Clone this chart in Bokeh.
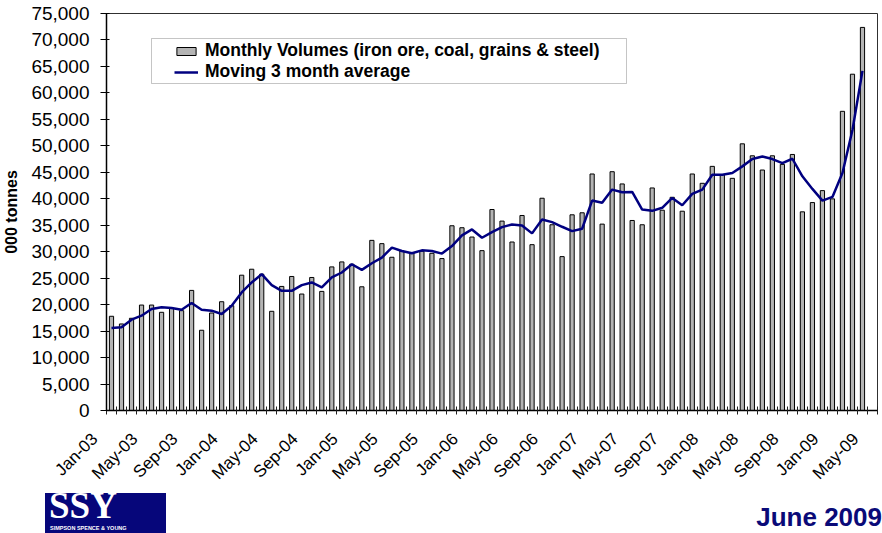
from math import pi
from bokeh.plotting import figure
from bokeh.layouts import column
from bokeh.models import (Range1d, FixedTicker, Legend, LegendItem, BoxAnnotation,
                          NumeralTickFormatter, Div)
from bokeh.embed import file_html
from bokeh.resources import INLINE

# Monthly volumes ('000 tonnes), Jan-03 .. Apr-09
volumes = [17800, 16350, 17420, 19920, 19920, 18550, 19300, 18860, 22690, 15160,
           18420, 20550, 19800, 25560, 26690, 25750, 18740, 23440, 25320, 22000,
           25130, 22500, 27130, 28070, 27630, 23370, 32140, 31520, 28950, 30130,
           29820, 30080, 29700, 28700, 34900, 34530, 32770, 30200, 37970, 35780,
           31830, 36840, 31330, 40100, 35090, 29070, 36970, 37350, 44680, 35210,
           45110, 42800, 35900, 35090, 42040, 37840, 40280, 37650, 44680, 42920,
           46120, 44550, 43860, 50380, 48120, 45430, 48120, 46500, 48370, 37530,
           39280, 41540, 39980, 56520, 63530, 72370]

# Moving 3 month average
moving_avg = [15600, 15730, 17160, 17910, 19170, 19490, 19360, 19040, 20300, 19040,
              18860, 18230, 19800, 22310, 24190, 25750, 23680, 22610, 22610, 23680,
              24190, 23250, 25130, 26070, 27630, 26560, 27820, 28890, 30770, 30130,
              29700, 30260, 30130, 29640, 31070, 33080, 34210, 32640, 33700, 34640,
              35150, 34960, 33460, 36090, 35590, 34710, 33890, 34340, 39660, 39230,
              41730, 41230, 41290, 37970, 37720, 38290, 40160, 38780, 40910, 41730,
              44550, 44550, 44860, 46120, 47500, 48000, 47500, 46740, 47560, 44240,
              41860, 39660, 40350, 44860, 53000, 64160]

tick_labels = ["Jan-03", "May-03", "Sep-03", "Jan-04", "May-04", "Sep-04", "Jan-05",
               "May-05", "Sep-05", "Jan-06", "May-06", "Sep-06", "Jan-07", "May-07",
               "Sep-07", "Jan-08", "May-08", "Sep-08", "Jan-09", "May-09"]
label_step = 4
n_cat = (len(tick_labels) - 1) * label_step + 1
xs = list(range(len(volumes)))

FONT = "Liberation Sans"
W = 882
MAIN_H = 492
FOOT_H = 41

p = figure(width=W, height=MAIN_H, output_backend="svg", toolbar_location=None,
           x_range=Range1d(-0.5, n_cat - 0.5), y_range=Range1d(0, 75000),
           min_border_left=106, min_border_right=5, min_border_top=13,
           min_border_bottom=MAIN_H - 412)
p.xgrid.visible = False
p.ygrid.visible = False
p.outline_line_color = "#303030"
p.outline_line_width = 1
p.background_fill_color = "white"
p.border_fill_color = "white"

bars = p.vbar(x=xs, top=volumes, width=0.42, fill_color="#b4b4b4",
              line_color="black", line_width=1)
avg = p.line(xs, moving_avg, line_color="#000080", line_width=2.5)

# y axis
ya = p.yaxis[0]
ya.ticker = FixedTicker(ticks=list(range(0, 75001, 5000)), minor_ticks=[])
ya.formatter = NumeralTickFormatter(format="0,0")
ya.major_label_text_font = FONT
ya.major_label_text_font_size = "19px"
ya.major_label_text_color = "black"
ya.major_tick_in = 3
ya.major_tick_out = 6
ya.major_tick_line_color = "black"
ya.major_label_standoff = 11
ya.axis_line_color = "black"
ya.axis_line_width = 1.5
ya.axis_label = "000 tonnes"
ya.axis_label_text_font = FONT
ya.axis_label_text_font_style = "bold"
ya.axis_label_text_font_size = "16px"
ya.axis_label_text_color = "black"
ya.axis_label_standoff = 8

# x axis: labels every 4 months, tick marks between categories
PAD = "\u00a0" * 5   # nudges the slanted labels like the original's placement
major = [i * label_step for i in range(len(tick_labels))]
xa = p.xaxis[0]
xa.ticker = FixedTicker(ticks=major,
                        minor_ticks=[i - 0.5 for i in range(n_cat + 1)])
xa.major_label_overrides = {m: lab + PAD for m, lab in zip(major, tick_labels)}
xa.major_label_orientation = pi / 4
xa.major_label_text_font = FONT
xa.major_label_text_font_size = "17px"
xa.major_label_text_color = "black"
xa.major_tick_line_color = None
xa.major_tick_in = 0
xa.major_tick_out = 0
xa.major_label_standoff = 5
xa.minor_tick_in = 4
xa.minor_tick_out = 4
xa.minor_tick_line_color = "#202020"
xa.axis_line_color = "black"
xa.axis_line_width = 1.5

# legend frame
p.add_layout(BoxAnnotation(left=45, right=520, bottom=327, top=372,
                           left_units="screen", right_units="screen",
                           bottom_units="screen", top_units="screen",
                           fill_color="white", fill_alpha=1,
                           line_color="#404040", line_width=1))
legend = Legend(items=[
    LegendItem(label="Monthly Volumes (iron ore, coal, grains & steel)", renderers=[bars]),
    LegendItem(label="Moving 3 month average", renderers=[avg])],
    location=(68, 328), margin=0, padding=2, spacing=0,
    glyph_width=24, glyph_height=10, label_standoff=7,
    label_text_font=FONT, label_text_font_style="bold",
    label_text_font_size="17.5px", label_text_color="black",
    border_line_color=None, background_fill_alpha=0)
p.add_layout(legend)

# footer: SSY logo and date
footer_html = (
    '<div style="position:relative;width:882px;height:41px;">'
    '<div style="position:absolute;left:45px;top:1px;width:121px;height:40px;'
    'background:#06067a;">'
    '<div style="position:absolute;left:4px;top:-6px;font-family:\'Liberation Serif\';'
    'font-weight:bold;font-size:37px;line-height:37px;color:white;">SSY</div>'
    '<div style="position:absolute;left:5px;top:32px;font-family:\'Liberation Sans\';'
    'font-weight:bold;font-size:5.5px;line-height:6px;color:white;white-space:nowrap;">'
    'SIMPSON SPENCE &amp; YOUNG</div>'
    '</div>'
    '<div style="position:absolute;right:0px;top:12px;font-family:\'Liberation Sans\';'
    'font-weight:bold;font-size:26px;line-height:26px;color:#0a0a78;'
    'white-space:nowrap;">June 2009</div>'
    '</div>')
footer = Div(text=footer_html, width=W, height=FOOT_H, margin=0)

layout = column(p, footer, spacing=0)
open("out.html", "w").write(file_html(layout, INLINE))
